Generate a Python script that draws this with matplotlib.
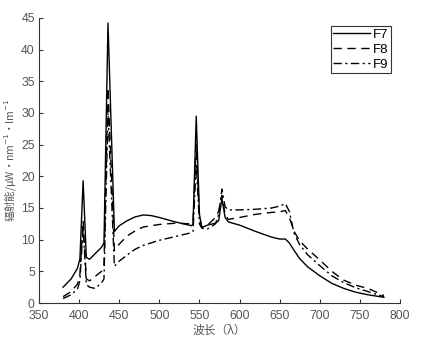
import numpy as np
import matplotlib
matplotlib.use("Agg")
import matplotlib.pyplot as plt

plt.rcParams['font.family'] = ['Liberation Sans', 'Noto Sans CJK SC']

# wavelength grid (nm) shared by the three lamp spectra
wavelength = [380, 390, 398, 401, 405, 409, 413, 420, 428, 431, 436, 444, 450,
              460, 470, 480, 490, 500, 520, 540, 542, 546, 550, 553, 560, 570,
              574, 578, 582, 586, 600, 620, 640, 650, 657, 662, 668, 675, 685,
              700, 715, 730, 745, 760, 780]

f7 = [2.5, 3.8, 5.5, 7.0, 19.3, 7.2, 6.9, 7.8, 8.8, 9.5, 44.2, 11.3, 12.2,
      13.0, 13.6, 13.9, 13.8, 13.5, 12.8, 12.2, 12.5, 29.5, 14.0, 11.9, 12.3, 12.6,
      13.0, 16.5, 13.5, 12.8, 12.3, 11.3, 10.4, 10.1, 10.1, 9.5, 8.3, 7.0, 5.7,
      4.3, 3.1, 2.3, 1.7, 1.3, 0.9]

f8 = [1.0, 1.8, 3.0, 4.5, 13.0, 3.8, 3.5, 4.2, 5.0, 6.0, 34.0, 8.3, 9.3,
      10.6, 11.4, 12.0, 12.2, 12.4, 12.6, 12.5, 12.7, 25.0, 13.5, 12.0, 12.3, 13.5,
      14.5, 17.0, 14.0, 13.2, 13.5, 14.0, 14.3, 14.4, 14.6, 13.5, 11.3, 9.8, 8.5,
      6.8, 5.0, 3.6, 2.8, 2.3, 1.2]

f9 = [0.7, 1.3, 2.2, 3.5, 12.0, 2.9, 2.5, 2.3, 3.2, 3.8, 30.0, 5.8, 6.6,
      7.6, 8.5, 9.1, 9.5, 9.9, 10.5, 11.1, 11.3, 22.0, 12.5, 11.8, 11.7, 12.5,
      14.0, 18.0, 15.2, 14.7, 14.7, 14.8, 15.0, 15.3, 15.7, 14.5, 11.0, 9.2, 7.6,
      5.9, 4.3, 3.2, 2.4, 1.8, 1.0]

fig = plt.figure(figsize=(4.30, 3.37), dpi=100)
ax = fig.add_axes([39/430, 34/337, 361/430, 285/337])

ax.plot(wavelength, f7, color='black', lw=1.0, ls='-', label='F7')
ax.plot(wavelength, f8, color='black', lw=1.0, ls=(0, (6, 4)), label='F8')
ax.plot(wavelength, f9, color='black', lw=1.0, ls=(0, (6, 2.5, 1.5, 2.5)), label='F9')

ax.set_xlim(350, 800)
ax.set_ylim(0, 45)
ax.set_xticks(np.arange(350, 801, 50))
ax.set_yticks(np.arange(0, 46, 5))
ax.tick_params(direction='in', length=3, labelsize=8.8, labelcolor='#555555',
               color='#333333')
ax.tick_params(axis='x', pad=5)
ax.tick_params(axis='y', pad=3)
for side in ['top', 'right']:
    ax.spines[side].set_visible(False)
for side in ['left', 'bottom']:
    ax.spines[side].set_color('#333333')
    ax.spines[side].set_linewidth(0.8)

ax.set_xlabel('波长（λ）', fontsize=8.5, color='#555555', labelpad=1,
              family=['Noto Sans CJK SC', 'DejaVu Sans'])
ax.set_ylabel('辐射能/μW·nm$^{-1}$·lm$^{-1}$', fontsize=7.5, color='#555555',
              labelpad=2, family=['Noto Sans CJK SC', 'DejaVu Sans'])

leg = ax.legend(loc='upper right', bbox_to_anchor=(0.975, 0.972), fontsize=9.5,
                handlelength=2.8, handletextpad=0.2, borderpad=0.2,
                labelspacing=0.2, borderaxespad=0, fancybox=False, framealpha=1)
leg.get_frame().set_edgecolor('#333333')
leg.get_frame().set_linewidth(0.8)

fig.savefig('out.png', dpi=100)
